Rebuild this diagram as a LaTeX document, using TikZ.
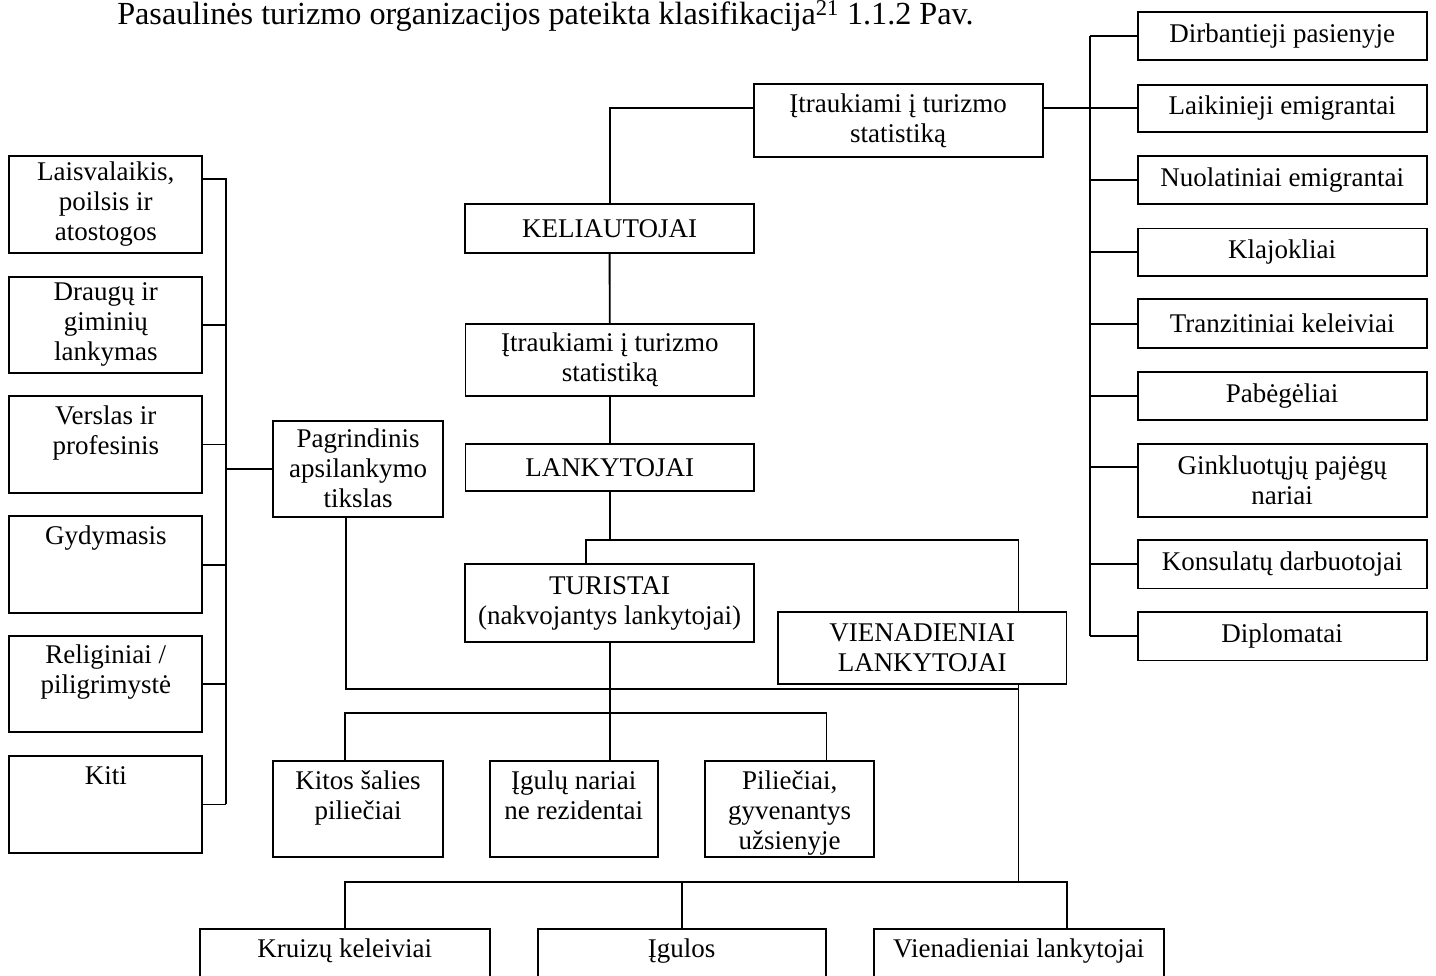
\documentclass[tikz,border=0pt]{standalone}
\usepackage{fontspec}
\setmainfont{Liberation Serif}
\usetikzlibrary{calc}
\tikzset{
  boxst/.style={draw, line width=1.9pt, rectangle, inner sep=0pt, align=center, font=\fontsize{27}{30}\selectfont},
  txt/.style={inner sep=0pt, align=center, font=\fontsize{27}{30}\selectfont},
  conn/.style={line width=1.9pt},
}
\newcommand\cbox[6]{\node[boxst, minimum width={#4-#2}, minimum height={#5-#3}] (#1) at ({(#2+#4)/2},{(#3+#5)/2}) {#6};}
\newcommand\tbox[6]{\node[boxst, minimum width={#4-#2}, minimum height={#5-#3}] (#1) at ({(#2+#4)/2},{(#3+#5)/2}) {};
  \node[txt, anchor=north] (#1t) at ({(#2+#4)/2},{#3+8}) {\rule{0pt}{20pt}#6};}
\begin{document}
\begin{tikzpicture}[x=1pt,y=-1pt]
\useasboundingbox[fill=white] (0,0) rectangle (1436,976);
\node[anchor=base, inner sep=0pt, font=\fontsize{32.2}{36}\selectfont] (title) at (545.5,25) {Pasaulinės turizmo organizacijos pateikta klasifikacija\textsuperscript{21} 1.1.2 Pav.};

% right column
\cbox{r1}{1137.7}{12.1}{1426.7}{59.8}{Dirbantieji pasienyje}
\cbox{r2}{1137.7}{84.6}{1426.7}{132.3}{Laikinieji emigrantai}
\cbox{r3}{1137.7}{156.1}{1426.7}{203.8}{Nuolatiniai emigrantai}
\cbox{r4}{1137.7}{228.5}{1426.7}{276.2}{Klajokliai}
\cbox{r5}{1137.7}{299.2}{1426.7}{348.2}{Tranzitiniai keleiviai}
\cbox{r6}{1137.7}{371.6}{1426.7}{419.8}{Pabėgėliai}
\cbox{r7}{1137.7}{443.6}{1426.7}{516.9}{Ginkluotųjų pajėgų\\nariai}
\cbox{r8}{1137.7}{539.9}{1426.7}{588.5}{Konsulatų darbuotojai}
\cbox{r9}{1137.7}{612.3}{1426.7}{660.5}{Diplomatai}

% left column
\cbox{l1}{9.3}{156.1}{202.3}{252.8}{Laisvalaikis,\\poilsis ir\\atostogos}
\cbox{l2}{9.3}{276.6}{202.3}{372.9}{Draugų ir\\giminių\\lankymas}
\tbox{l3}{9.3}{396.3}{202.3}{492.6}{Verslas ir\\profesinis}
\tbox{l4}{9.3}{516.4}{202.3}{612.7}{Gydymasis}
\tbox{l5}{9.3}{635.7}{202.3}{732.4}{Religiniai /\\piligrimystė}
\tbox{l6}{9.3}{756.3}{202.3}{852.6}{Kiti}
\cbox{pag}{273.3}{420.6}{442.7}{516.9}{Pagrindinis\\apsilankymo\\tikslas}

% middle
\cbox{itr1}{753.6}{84}{1042.7}{156.7}{Įtraukiami į turizmo\\statistiką}
\cbox{kel}{465.3}{204}{754}{252.7}{KELIAUTOJAI}
\cbox{itr2}{465.5}{324.3}{754}{396}{Įtraukiami į turizmo\\statistiką}
\cbox{lank}{465.5}{444.3}{754}{491}{LANKYTOJAI}
\cbox{tur}{465.4}{564.3}{753.8}{641.7}{TURISTAI\\(nakvojantys lankytojai)}
\cbox{vien}{778}{612.3}{1066.5}{684}{VIENADIENIAI\\LANKYTOJAI}
\tbox{kit}{273.3}{761}{442.7}{857.3}{Kitos šalies\\piliečiai}
\tbox{igu}{489.7}{761}{657.9}{857.3}{Įgulų nariai\\ne rezidentai}
\tbox{pil}{705.4}{761}{874}{857.3}{Piliečiai,\\gyvenantys\\užsienyje}
\tbox{kru}{199.6}{929.3}{489.7}{1000}{Kruizų keleiviai}
\tbox{igl}{537.6}{929.3}{825.8}{1000}{Įgulos}
\tbox{vlk}{873.7}{929.3}{1163.8}{1000}{Vienadieniai lankytojai}

% helper coordinates
\coordinate (rb) at (1090,0);
\coordinate (lb) at (226,0);
\coordinate (j1) at (610.5,107.7);
\coordinate (tj) at (585.6,540);
\coordinate (vj) at (1018.5,540);
\coordinate (pj) at (345.7,689.3);
\coordinate (k1) at (345.2,712.7);
\coordinate (k2) at (826.5,712.7);
\coordinate (b3) at (1066.7,881.7);

% right bus
\draw[conn] (rb |- r1.west) -- (rb |- r9.west);
\foreach \n in {r1,r2,r3,r4,r5,r6,r8,r9} {\draw[conn] (\n.west) -- (\n.west -| rb);}
\draw[conn] ($(r7.north west)+(0,24)$) coordinate (r7j) -- (r7j -| rb);

% left bus
\draw[conn] ($(l1.north east)+(0,24)$) coordinate (l1j) -- (l1j -| lb) -- (lb |- l6.east);
\foreach \n in {l2,l3,l4,l5,l6} {\draw[conn] (\n.east) -- (\n.east -| lb);}
\draw[conn] (lb |- pag.west) -- (pag.west);

% middle connectors
\draw[conn] (itr1.west |- j1) -| (kel.north);
\draw[conn] (itr1.east |- j1) -- (rb |- j1);
\draw[conn] (kel.south) -- (itr2.north);
\draw[conn] (itr2.south) -- (lank.north);
\draw[conn] (lank.south) -- (lank.south |- tj);
\draw[conn] (tur.north -| tj) -- (tj) -- (vj) -- (vien.north -| vj);
\draw[conn] (tur.south) -- (tur.south |- igu.north);
\draw[conn] (kit.north -| k1) -- (k1) -- (k2) -- (pil.north -| k2);
\draw[conn] (pag.south -| pj) -- (pj) -- (pj -| vj);
\draw[conn] (vien.south -| vj) -- (vj |- b3);
\draw[conn] (kru.north) |- (b3) -- (vlk.north -| b3);
\draw[conn] (igl.north) -- (igl.north |- b3);
\end{tikzpicture}
\end{document}
